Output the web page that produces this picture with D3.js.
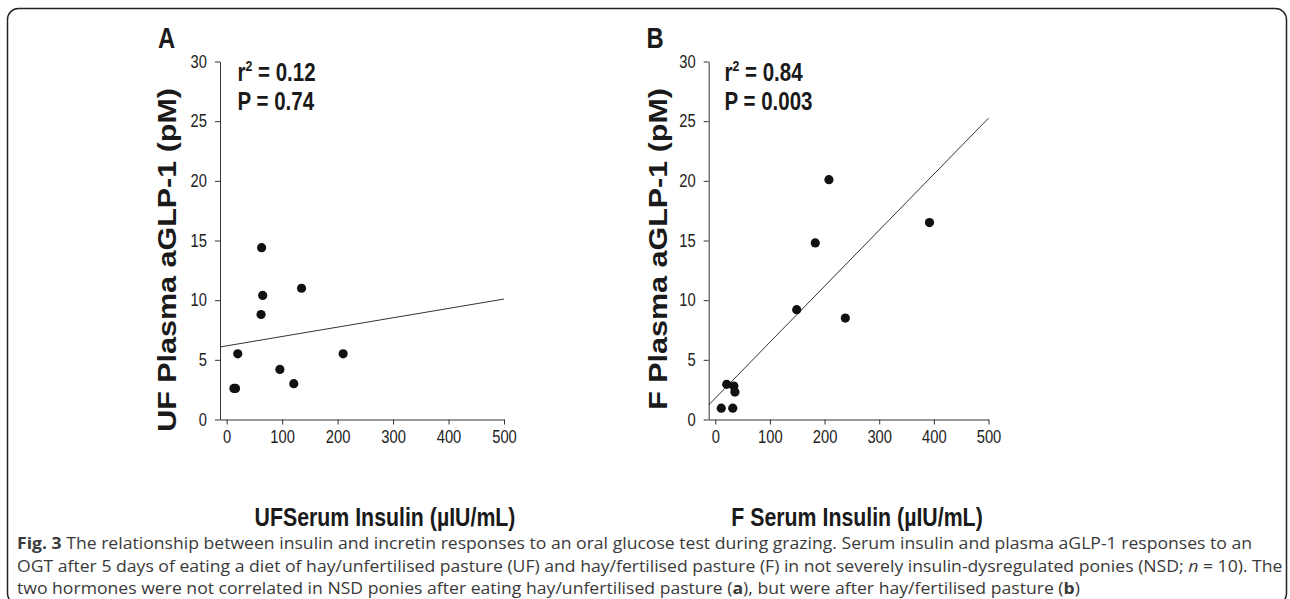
<!DOCTYPE html>
<html><head><meta charset="utf-8">
<script src="https://cdn.jsdelivr.net/npm/d3@7"></script>
<style>
html,body{margin:0;padding:0;background:#fff;}
svg{display:block;}
</style></head>
<body>
<svg id="c" width="1290" height="599"></svg>
<script>
// ---- data ----
const xTicks = [0, 100, 200, 300, 400, 500];
const yTicks = [0, 5, 10, 15, 20, 25, 30];
const ufInsulin = [63, 65, 62, 135, 20, 13, 16, 96, 121, 210];
const ufGLP1    = [14.4, 10.4, 8.8, 11.0, 5.5, 2.6, 2.6, 4.2, 3.0, 5.5];
const fInsulin  = [208, 183, 392, 149, 238, 21, 34, 36, 11, 32];
const fGLP1     = [20.1, 14.8, 16.5, 9.2, 8.5, 2.95, 2.8, 2.3, 0.95, 0.95];
const panelLabels = ["A", "B"];
const statsR2 = ["0.12", "0.84"];
const statsP  = ["0.74", "0.003"];
const yTitles = ["UF Plasma aGLP-1 (pM)", "F Plasma aGLP-1 (pM)"];
const xTitles = ["UFSerum Insulin (µIU/mL)", "F Serum Insulin (µIU/mL)"];
const xDomain = [-12, 500];
const yDomain = [0, 30];

const svg = d3.select("#c");
const SQ = 0.82;   // horizontal squeeze of the original figure
const FONT = "'Liberation Sans', Arial, sans-serif";
const ink = "#1a1a1a";

// frame
svg.append("rect").attr("x", 7.5).attr("y", 8.5).attr("width", 1279).attr("height", 596)
  .attr("rx", 11).attr("fill", "none").attr("stroke", "#222").attr("stroke-width", 1.5);

function sqText(g, x, y, txt, size, weight, anchor) {
  return g.append("text")
    .attr("transform", `translate(${x},${y}) scale(${SQ},1)`)
    .attr("text-anchor", anchor || "start")
    .attr("font-family", FONT).attr("font-size", size).attr("font-weight", weight || "normal")
    .attr("fill", ink).text(txt);
}

const panels = [
  {xs: ufInsulin, ys: ufGLP1, left: 220, right: 504, titleX: 176, xTitleX: 385, labelX: 166.5, statX: 237.5},
  {xs: fInsulin,  ys: fGLP1,  left: 708.7, right: 988.5, titleX: 667, xTitleX: 857, labelX: 655, statX: 724.5}
];

const y = d3.scaleLinear().domain(yDomain).range([419.5, 61.5]);

panels.forEach((p, i) => {
  const g = svg.append("g");
  const x = d3.scaleLinear().domain(xDomain).range([p.left, p.right]);

  // axes
  const yAxis = g.append("g").attr("transform", `translate(${p.left},0)`)
    .call(d3.axisLeft(y).tickValues(yTicks).tickSize(5).tickSizeOuter(0).tickPadding(8));
  const xAxis = g.append("g").attr("transform", `translate(0,${y(0)})`)
    .call(d3.axisBottom(x).tickValues(xTicks).tickSize(5).tickSizeOuter(0).tickPadding(5));
  [yAxis, xAxis].forEach(a => {
    a.select(".domain").attr("stroke", "#333").attr("stroke-width", 1);
    a.selectAll(".tick line").attr("stroke", "#333").attr("stroke-width", 1);
    a.selectAll(".tick text").attr("font-family", FONT).attr("font-size", 18).attr("fill", "#222");
  });
  yAxis.selectAll(".tick text").each(function() {
    const t = d3.select(this);
    const xx = +t.attr("x");
    t.attr("x", null).attr("transform", `translate(${xx},0) scale(${SQ},1)`);
  });
  xAxis.selectAll(".tick text").each(function() {
    const t = d3.select(this);
    const yy = +t.attr("y");
    t.attr("y", null).attr("dy", null).attr("transform", `translate(0,${yy + 13}) scale(${SQ},1)`);
  });

  // regression line (least squares from the data)
  const mx = d3.mean(p.xs), my = d3.mean(p.ys);
  let sxy = 0, sxx = 0;
  p.xs.forEach((v, k) => { sxy += (v - mx) * (p.ys[k] - my); sxx += (v - mx) * (v - mx); });
  const b = sxy / sxx, a0 = my - b * mx;
  g.append("line")
    .attr("x1", x(xDomain[0])).attr("y1", y(a0 + b * xDomain[0]))
    .attr("x2", x(xDomain[1])).attr("y2", y(a0 + b * xDomain[1]))
    .attr("stroke", "#333").attr("stroke-width", 1);

  // points
  g.selectAll("circle.pt").data(p.xs.map((v, k) => [v, p.ys[k]])).join("circle")
    .attr("class", "pt").attr("cx", d => x(d[0])).attr("cy", d => y(d[1])).attr("r", 4.6)
    .attr("fill", "#111");

  // panel label
  sqText(g, p.labelX, 48, panelLabels[i], 29, "bold", "middle");

  // stats
  const r2 = sqText(g, p.statX, 81, "", 25, "bold");
  r2.append("tspan").text("r");
  r2.append("tspan").attr("font-size", 15).attr("dy", -10).text("2");
  r2.append("tspan").attr("dy", 10).text(" = " + statsR2[i]);
  sqText(g, p.statX, 109.5, "P = " + statsP[i], 25, "bold");

  // y title
  g.append("text")
    .attr("transform", `translate(${p.titleX},88) scale(${SQ},1) rotate(-90)`)
    .attr("text-anchor", "end").attr("font-family", FONT).attr("font-size", 30.5)
    .attr("font-weight", "bold").attr("fill", ink).text(yTitles[i]);

  // x title
  sqText(g, p.xTitleX, 526, xTitles[i], 26, "bold", "middle");
});

// caption
const capFont = "'Open Sans', 'Noto Sans', sans-serif";
const capLines = [
  [["Fig. 3", true], [" The relationship between insulin and incretin responses to an oral glucose test during grazing. Serum insulin and plasma aGLP-1 responses to an", false]],
  [["OGT after 5 days of eating a diet of hay/unfertilised pasture (UF) and hay/fertilised pasture (F) in not severely insulin-dysregulated ponies (NSD; ", false], ["n", "i"], [" = 10). The", false]],
  [["two hormones were not correlated in NSD ponies after eating hay/unfertilised pasture (", false], ["a", true], ["), but were after hay/fertilised pasture (", false], ["b", true], [")", false]]
];
const capBase = [549, 572, 594];
const capNodes = capLines.map((ln, i) => {
  const t = svg.append("text").attr("font-family", capFont).attr("font-size", 15.5).attr("fill", "#3a3a3a");
  ln.forEach(s => {
    const ts = t.append("tspan").text(s[0]);
    if (s[1] === true) ts.attr("font-weight", "bold");
    if (s[1] === "i") ts.attr("font-style", "italic");
  });
  return t;
});
const w1 = capNodes[0].node().getComputedTextLength();
const k = 1236 / w1;
capNodes.forEach((t, i) => t.attr("transform", `translate(17,${capBase[i]}) scale(${k},1)`));
</script>
</body></html>
